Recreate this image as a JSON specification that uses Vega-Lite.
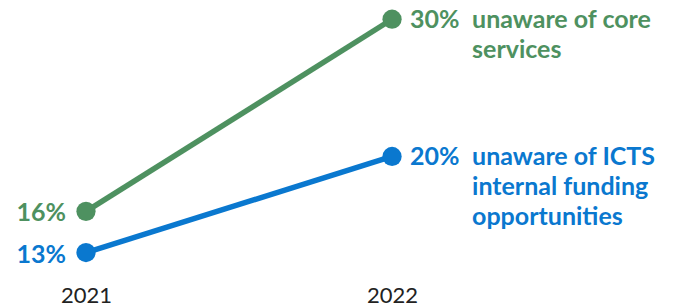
{
  "$schema": "https://vega.github.io/schema/vega-lite/v6.json",
  "autosize": "none",
  "width": 673,
  "height": 280,
  "padding": {"left": 0, "top": 0, "right": 0, "bottom": 28},
  "background": "white",
  "config": {"view": {"stroke": null}, "font": "Lato"},
  "data": {
    "values": [
      {"group": "core", "year": 2021, "value": 16, "label": "16%", "desc": ""},
      {"group": "core", "year": 2022, "value": 30, "label": "30%", "desc": "unaware of core\nservices"},
      {"group": "icts", "year": 2021, "value": 13, "label": "13%", "desc": ""},
      {"group": "icts", "year": 2022, "value": 20, "label": "20%", "desc": "unaware of ICTS\ninternal funding\nopportunities"}
    ]
  },
  "encoding": {
    "x": {
      "field": "year",
      "type": "quantitative",
      "scale": {"domain": [2020.719, 2022.918], "nice": false, "zero": false},
      "axis": {
        "values": [2021, 2022],
        "format": "d",
        "title": null,
        "grid": false,
        "domain": false,
        "ticks": false,
        "labelPadding": 5,
        "labelFontSize": 22,
        "labelColor": "#222222",
        "labelFont": "Lato",
        "labelFontWeight": "normal"
      }
    },
    "y": {
      "field": "value",
      "type": "quantitative",
      "scale": {"domain": [11.0, 31.4], "nice": false, "zero": false},
      "axis": null
    },
    "color": {
      "field": "group",
      "type": "nominal",
      "scale": {"domain": ["core", "icts"], "range": ["#4E9160", "#0A78CF"]},
      "legend": null
    }
  },
  "layer": [
    {"mark": {"type": "line", "strokeWidth": 5.5}},
    {"mark": {"type": "circle", "size": 370, "opacity": 1}},
    {
      "transform": [{"filter": "datum.year == 2021"}],
      "mark": {"type": "text", "align": "right", "baseline": "middle", "dx": -20, "dy": 2, "fontSize": 25, "fontWeight": "bold"},
      "encoding": {"text": {"field": "label"}}
    },
    {
      "transform": [{"filter": "datum.year == 2022"}],
      "mark": {"type": "text", "align": "left", "baseline": "middle", "dx": 18, "dy": 1, "fontSize": 25, "fontWeight": "bold"},
      "encoding": {"text": {"field": "label"}}
    },
    {
      "transform": [{"filter": "datum.year == 2022"}],
      "mark": {"type": "text", "align": "left", "baseline": "alphabetic", "dx": 80, "dy": 9, "fontSize": 25, "fontWeight": "bold", "lineBreak": "\n", "lineHeight": 30},
      "encoding": {"text": {"field": "desc"}}
    }
  ]
}
